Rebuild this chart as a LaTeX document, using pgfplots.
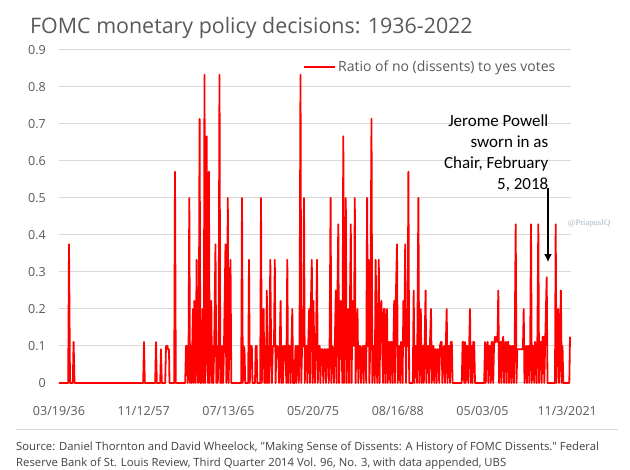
\documentclass[border=0pt]{standalone}
\usepackage{pgfplots}
\pgfplotsset{compat=1.18}
\usepackage{pgfplotstable}
\usepackage{fontspec}
\setmainfont{Open Sans}
\newfontfamily\calfont{Carlito}
\newfontfamily\wmfont{Liberation Serif}
\usetikzlibrary{arrows.meta}
\definecolor{txtgray}{HTML}{595959}
\definecolor{gridgray}{HTML}{D9D9D9}
\definecolor{srcgray}{HTML}{404040}
\definecolor{wmblue}{HTML}{AAB6C4}
\definecolor{fomcred}{HTML}{FF0000}

% pos = meeting position along the axis, ratio = no/yes votes
\pgfplotstableread{
pos ratio
59 0
68.2 0
69 0.375
70 0
72.8 0
73.6 0.111
74.5 0
143.2 0
144 0.111
144.8 0
155.2 0
156 0.111
156.8 0
160.2 0
161 0.091
161.8 0
165.2 0
166 0.1
167.5 0.1
168 0.091
169 0.091
169.5 0
174.2 0
175 0.571
175.8 0
185.2 0
186 0.1
187 0.1
187.8 0
188.6 0.1
189.3 0.5
190 0
190.8 0.1
191.6 0
192.3 0.1
193.0 0.2
193.7 0
194.4 0.222
195.1 0.1
195.8 0
196.6 0.333
197.4 0.1
198.1 0
198.8 0.1
199.6 0.714
200.4 0
201.1 0.1
201.8 0
202.5 0.2
203.2 0.1
203.8 0
204.5 0.833
205.2 0
206 0.1
206.7 0.667
207.4 0.1
208.1 0
208.9 0.571
209.7 0
210.5 0.1
211.3 0.222
212 0
212.7 0.1
213.4 0
214.2 0.1
215.5 0.375
216.3 0
217 0.1
217.8 0
218.6 0.1
219.5 0.833
220.3 0
221 0.1
221.8 0
222.5 0.1
223.2 0
224 0.1
225.5 0.375
226.3 0
227 0.1
227.8 0.5
228.6 0
229.3 0.1
230.5 0.333
231.3 0
241.2 0
242 0.5
242.8 0
243.6 0.1
244.5 0.091
245.2 0
248.2 0
249 0.333
249.8 0
250.6 0.1
251.8 0.1
252.5 0
255 0
255.7 0.1
256.6 0.1
257.3 0
260.2 0
261 0.5
261.8 0
262.6 0.1
263.6 0.2
264.4 0
265.2 0.1
266 0
266.8 0.25
267.6 0
268.4 0.1
269.2 0
270.3 0.333
271.1 0.1
271.9 0
272.8 0.1
274 0.1
274.8 0.333
275.6 0
276.4 0.1
277.4 0.1
278.2 0.091
279 0
279.8 0.1
280.6 0.222
281.4 0
282.2 0.1
283 0
284 0.1
285.5 0.1
286.3 0
287.3 0.333
288.1 0
289 0.1
289.8 0.1
290.6 0
291.5 0.1
292.3 0.2
293.1 0
294.5 0
295.5 0.1
296.3 0
297.1 0.1
298 0.1
298.8 0
299.5 0.1
300.5 0.833
301.3 0
302.1 0.1
303.2 0.1
304 0.5
304.8 0
305.6 0.1
306.6 0.1
307.4 0
308.2 0.1
309.2 0.2
310 0
310.8 0.2
311.8 0.333
312.6 0
313.4 0.222
314.2 0.1
315 0
316 0.1
317 0.333
317.8 0
318.6 0.1
319.6 0.1
320.4 0
321.3 0.091
322.5 0.091
323.3 0
324.2 0.091
325.2 0.091
326 0
326.8 0.091
328 0.091
328.8 0
329.6 0.1
330.6 0.5
331.4 0
332.2 0.1
333.2 0.091
334 0
334.8 0.1
335.8 0.25
336.6 0
337.4 0.222
338.3 0.429
339.1 0
339.9 0.1
340.8 0.222
341.6 0.1
342.4 0
343.3 0.667
344.1 0
344.9 0.2
345.8 0.5
346.6 0
347.4 0.1
348.3 0.2
349.1 0
349.9 0.2
350.8 0.429
351.6 0
352.4 0.2
353.3 0.222
354 0.1
354.8 0.5
355.6 0
356.4 0.1
357.5 0.2
358.3 0
359.1 0.1
360.2 0.1
361 0
361.8 0.091
362.8 0.1
363.6 0
364.4 0.1
365.4 0.1
366.2 0
367.1 0.5
367.9 0.1
368.6 0.333
369.4 0
370.2 0.1
371.5 0.714
372.3 0
373.1 0.1
374 0.1
374.8 0
375.6 0.333
376.4 0.2
377.2 0
378 0.1
378.8 0.333
379.6 0
380.4 0.2
381.4 0.222
382.2 0.1
383 0
383.8 0.2
384.6 0.2
385.4 0
386.2 0.1
387 0.2
387.8 0
388.6 0.111
389.4 0.111
390.2 0
391 0.111
391.8 0.111
392.6 0
393.4 0.1
394.2 0.222
395 0
395.8 0.222
397 0.375
397.8 0
398.6 0.091
399.4 0.1
400.2 0
401 0.111
401.8 0.1
402.6 0
403.4 0.222
404.2 0.1
405.2 0.375
406 0
406.8 0.2
407.6 0.1
408.4 0.571
409.2 0
412.8 0
413.7 0.25
414.5 0
415.3 0.1
416.2 0.1
417 0
417.6 0.2
418.4 0.5
419.2 0
420 0.1
420.8 0.2
421.6 0
422.4 0.1
423 0.1
423.8 0
424.6 0.1
425.6 0.25
426.4 0
427.2 0.1
428.3 0.1
429.1 0
429.9 0.1
431 0.2
431.8 0
432.6 0.1
433.4 0.1
434.2 0
435 0.091
435.8 0.091
436.6 0
437.4 0.091
438.4 0.091
439.2 0
440 0.1
440.8 0.111
441.6 0.111
442.4 0
443.2 0.091
444.2 0.1
445 0
445.8 0.1
446.7 0.2
447.5 0
448.3 0.1
449.2 0.1
450 0
450.8 0.111
451.8 0.111
452.6 0
461.8 0
462.6 0.111
463.4 0.111
464.2 0
465 0.111
465.8 0
466.6 0.1
467.4 0.1
468.2 0
469.2 0.1
470 0.2
470.8 0
471.6 0.1
472.4 0
473.2 0.111
474.2 0.111
475 0
484.2 0
485 0.111
485.8 0
486.6 0.1
487.6 0.111
488.4 0
489.2 0.1
490 0.1
490.8 0
491.6 0.111
492.4 0.111
493.2 0
494 0.1
495 0.125
495.8 0.111
496.7 0.125
497.5 0.111
498.3 0.25
499.1 0
499.9 0.111
500.7 0.111
501.5 0
502.3 0.111
503.3 0.125
504.1 0
504.9 0.1
505.8 0.111
506.6 0
507.5 0.111
508.3 0.111
509.1 0
509.9 0.1
510.7 0.1
511.5 0
512.3 0.1
513.1 0.1
513.9 0
514.7 0.1
515.7 0.429
516.5 0
517.3 0.091
522.3 0.091
523 0.1
523.7 0.2
524.5 0
525.3 0.091
526.1 0.1
526.9 0
527.7 0.1
528.5 0.1
529.3 0
530.2 0.1
531 0.429
531.8 0
532.6 0.1
533.4 0.1
534.2 0
535 0.111
535.8 0.1
536.6 0
537.4 0.125
538.3 0.429
539.1 0
539.9 0.111
540.9 0.111
541.7 0
542.5 0.125
543.5 0.125
544.3 0
545.1 0.1
546.7 0.286
547.5 0
555 0
555.7 0.429
556.5 0
557.3 0.1
558.3 0.2
559.1 0
559.9 0.1
560.9 0.25
561.7 0
562.5 0.1
563.3 0
569.3 0
570 0.125
}\fomcdata

\begin{document}
\begin{tikzpicture}
\useasboundingbox (-59pt,-87pt) rectangle (571pt,383pt);
\begin{axis}[
  scale only axis,
  width=512pt, height=333pt,
  xmin=59, xmax=571,
  ymin=0, ymax=0.9,
  clip=false,
  axis line style={draw=none},
  major tick length=0pt,
  ymajorgrids,
  grid style={gridgray, line width=1pt},
  ytick={0,0.1,0.2,0.3,0.4,0.5,0.6,0.7,0.8,0.9},
  xtick={59,143.7,228.4,313.1,397.8,482.5,567.2},
  xticklabels={03/19/36,11/12/57,07/13/65,05/20/75,08/16/88,05/03/05,11/3/2021},
  /pgf/number format/assume math mode=true,
  tick label style={font=\fontsize{12.5}{14}\selectfont, text=txtgray, inner sep=0pt},
  yticklabel style={anchor=east, xshift=-13pt},
  xticklabel style={anchor=base, yshift=-33pt},
  legend style={at={(axis cs:303,0.854)}, anchor=west, draw=none, fill=none,
    inner sep=0pt, font=\fontsize{14}{16}\selectfont, text=txtgray,
    legend cell align=left},
  legend image code/.code={\draw[fomcred, line width=2pt] (0pt,0pt) -- (31pt,0pt);},
]
\addplot[fomcred, line width=1.8pt, line join=round] table[x=pos, y=ratio] {\fomcdata};
\addlegendentry{Ratio of no (dissents) to yes votes}

\node[anchor=north east, align=right, inner sep=0pt, font=\calfont\fontsize{17}{21}\selectfont, text=black]
  at (axis cs:548.5,0.725) {Jerome Powell\\sworn in as\\Chair, February\\5, 2018};
\draw[black, line width=1.4pt, -{Latex[width=8pt,length=8pt]}] (axis cs:548,0.527) -- (axis cs:548,0.327);
\node[font=\wmfont\fontsize{8.5}{10}\selectfont, text=wmblue, inner sep=0pt] at (axis cs:589,0.432) {@PriapusIQ};
\end{axis}
\node[anchor=base west, inner sep=0pt, font=\fontsize{21.4}{24}\selectfont, text=txtgray] at (-29pt,349pt) {FOMC monetary policy decisions: 1936-2022};
\draw[gridgray, line width=1.5pt] (-43pt,-46.5pt) -- (559pt,-46.5pt);
\node[anchor=base west, inner sep=0pt, font=\fontsize{11.3}{18}\selectfont, text=srcgray, align=left] at (-43pt,-67.5pt)
  {Source: Daniel Thornton and David Wheelock, \textquotedbl Making Sense of Dissents: A History of FOMC Dissents.\textquotedbl\ Federal};
\node[anchor=base west, inner sep=0pt, font=\fontsize{11.3}{18}\selectfont, text=srcgray, align=left] at (-43pt,-84pt)
  {Reserve Bank of St. Louis Review, Third Quarter 2014 Vol. 96, No. 3, with data appended, UBS};
\end{tikzpicture}
\end{document}
